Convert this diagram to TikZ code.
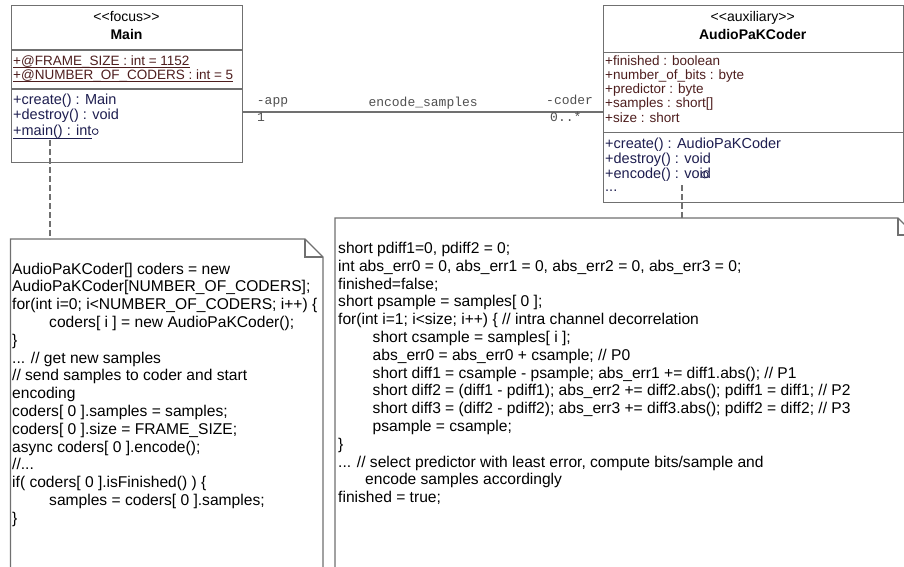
\documentclass[tikz,border=0pt]{standalone}
\usepackage{fontspec}
\setmainfont{Liberation Sans}
\newfontfamily\assocfont{Liberation Mono}
\usetikzlibrary{calc}

\definecolor{linegray}{RGB}{112,112,112}
\definecolor{attrred}{RGB}{78,30,30}
\definecolor{opblue}{RGB}{30,30,80}
\definecolor{rolegray}{RGB}{80,80,80}

\tikzset{
  outline/.style={draw=linegray, line width=1.2pt},
  classbox/.style={outline, fill=white, anchor=north west, inner sep=0pt, rectangle},
  stereo/.style={anchor=base, inner sep=0pt, font=\fontsize{14}{14}\selectfont},
  cname/.style={anchor=base, inner sep=0pt, font=\fontsize{14}{14}\selectfont\bfseries},
  member/.style={anchor=base west, inner sep=0pt},
  attr/.style={member, text=attrred, font=\fontsize{13.5}{13.5}\selectfont},
  oper/.style={member, text=opblue, font=\fontsize{14.5}{14.5}\selectfont},
  role/.style={anchor=base west, inner sep=0pt, text=rolegray, font=\assocfont\fontsize{13}{13}\selectfont},
  code/.style={anchor=base west, inner sep=0pt, font=\fontsize{15.6}{17.8}\selectfont},
  notelink/.style={draw=linegray, line width=1.2pt, dash pattern=on 6pt off 3pt},
  staticline/.style={line width=0.9pt},
  linkmark/.style={draw=opblue, line width=0.8pt},
}

\begin{document}
\begin{tikzpicture}[x=1pt, y=-1pt]
\useasboundingbox (0,0) rectangle (904,566);
\clip (0,0) rectangle (904,566);

% ---------- notes (open at the bottom of the sheet) ----------
\coordinate (lnote) at (10.5,239);
\draw[outline, fill=white] (10.5,580) -- (lnote) -- (305,239) -- (323,257) -- (323,580);
\draw[outline] (305,239) -- (305,257) -- (323,257);
\coordinate (lnotetop) at (50,239);

\coordinate (rnote) at (335,218);
\draw[outline, fill=white] (335,580) -- (rnote) -- (898,218) -- (916,236) -- (916,580);
\draw[outline] (898,218) -- (898,235) -- (916,235);
\coordinate (rnotetop) at (682,218);

% ---------- class Main ----------
\node[classbox, minimum width=231pt, minimum height=157pt] (main) at (11,5) {};
\draw[outline] ($(main.north west)+(0,45)$) -- ($(main.north east)+(0,45)$);
\draw[outline] ($(main.north west)+(0,84)$) -- ($(main.north east)+(0,84)$);
\node[stereo] (mainst) at (126.5,21) {<{}<focus>{}>};
\node[cname] (mainname) at (126.5,39.3) {Main};
\node[attr] (mattr1) at (13,65) {+@FRAME\_SIZE : int = 1152};
\node[attr] (mattr2) at (13,79.5) {+@NUMBER\_OF\_CODERS : int = 5};
\draw[attrred, staticline] ([yshift=-2.2pt]mattr1.base west) -- ([yshift=-2.2pt]mattr1.base east);
\draw[attrred, staticline] ([yshift=-2.2pt]mattr2.base west) -- ([yshift=-2.2pt]mattr2.base east);
\node[oper] (mop1) at (13,104) {+create() : Main};
\node[oper] (mop2) at (13,119.5) {+destroy() : void};
\node[oper] (mop3) at (13,135) {+main() : int};
\draw[opblue, staticline] ([yshift=-3.8pt]mop3.base west) -- ([yshift=-3.8pt]mop3.base east);
\draw[linkmark] ([xshift=3.5pt, yshift=3.4pt]mop3.base east) circle (2.9pt);
\coordinate (mainlink) at (50,140);

% ---------- class AudioPaKCoder ----------
\node[classbox, minimum width=299.5pt, minimum height=196.7pt] (coder) at (603,5) {};
\draw[outline] ($(coder.north west)+(0,47.7)$) -- ($(coder.north east)+(0,47.7)$);
\draw[outline] ($(coder.north west)+(0,127.7)$) -- ($(coder.north east)+(0,127.7)$);
\node[stereo] (coderst) at (752.75,21) {<{}<auxiliary>{}>};
\node[cname] (codername) at (752.75,39.3) {AudioPaKCoder};
\node[attr] (cattr1) at (605,65) {+finished : boolean};
\node[attr] (cattr2) at (605,79.25) {+number\_of\_bits : byte};
\node[attr] (cattr3) at (605,93.5) {+predictor : byte};
\node[attr] (cattr4) at (605,107.75) {+samples : short[]};
\node[attr] (cattr5) at (605,122) {+size : short};
\node[oper] (cop1) at (605,148.3) {+create() : AudioPaKCoder};
\node[oper] (cop2) at (605,163.3) {+destroy() : void};
\node[oper] (cop3) at (605,178.3) {+encode() : void};
\node[oper] (cop4) at (605,191.7) {...};
\draw[linkmark] ([xshift=-6.5pt, yshift=3.6pt]cop3.base east) circle (3.3pt);
\coordinate (coderlink) at (682,185);

% ---------- association ----------
\coordinate (assocy) at (0,112);
\draw[outline] (main.east |- assocy) -- (coder.west |- assocy);
\node[role] (roleapp) at (256.7,104) {-app};
\node[role] (assocname) at (368.3,106.7) {encode\_samples};
\node[role] (rolecoder) at (546,104) {-coder};
\node[role] (multapp) at (257,121.7) {1};
\node[role] (multcoder) at (550,121.7) {0..*};

% ---------- note links ----------
\draw[notelink] (mainlink) -- (lnotetop);
\draw[notelink] (coderlink) -- (rnotetop);

% ---------- left note text ----------
\node[code] (l1)  at (12,274) {AudioPaKCoder[] coders = new};
\node[code] (l2)  at (12,291.8) {AudioPaKCoder[NUMBER\_OF\_CODERS];};
\node[code] (l3)  at (12,309.6) {for(int i=0; i<NUMBER\_OF\_CODERS; i++) \{};
\node[code] (l4)  at (49,327.4) {coders[ i ] = new AudioPaKCoder();};
\node[code] (l5)  at (12,345.2) {\}};
\node[code] (l6)  at (12,363) {... // get new samples};
\node[code] (l7)  at (12,380.8) {// send samples to coder and start};
\node[code] (l8)  at (12,398.6) {encoding};
\node[code] (l9)  at (12,416.4) {coders[ 0 ].samples = samples;};
\node[code] (l10) at (12,434.2) {coders[ 0 ].size = FRAME\_SIZE;};
\node[code] (l11) at (12,452) {async coders[ 0 ].encode();};
\node[code] (l12) at (12,469.8) {//...};
\node[code] (l13) at (12,487.6) {if( coders[ 0 ].isFinished() ) \{};
\node[code] (l14) at (49,505.4) {samples = coders[ 0 ].samples;};
\node[code] (l15) at (12,523.2) {\}};

% ---------- right note text ----------
\node[code] (r1)  at (338,253.5) {short pdiff1=0, pdiff2 = 0;};
\node[code] (r2)  at (338,271.3) {int abs\_err0 = 0, abs\_err1 = 0, abs\_err2 = 0, abs\_err3 = 0;};
\node[code] (r3)  at (338,289.1) {finished=false;};
\node[code] (r4)  at (338,306.9) {short psample = samples[ 0 ];};
\node[code] (r5)  at (338,324.7) {for(int i=1; i<size; i++) \{ // intra channel decorrelation};
\node[code] (r6)  at (372.5,342.5) {short csample = samples[ i ];};
\node[code] (r7)  at (372.5,360.3) {abs\_err0 = abs\_err0 + csample; // P0};
\node[code] (r8)  at (372.5,378.1) {short diff1 = csample - psample; abs\_err1 += diff1.abs(); // P1};
\node[code] (r9)  at (372.5,395.9) {short diff2 = (diff1 - pdiff1); abs\_err2 += diff2.abs(); pdiff1 = diff1; // P2};
\node[code] (r10) at (372.5,413.7) {short diff3 = (diff2 - pdiff2); abs\_err3 += diff3.abs(); pdiff2 = diff2; // P3};
\node[code] (r11) at (372.5,431.5) {psample = csample;};
\node[code] (r12) at (338,449.3) {\}};
\node[code] (r13) at (338,467.1) {... // select predictor with least error, compute bits/sample and};
\node[code] (r14) at (365,484.9) {encode samples accordingly};
\node[code] (r15) at (338,502.7) {finished = true;};
\end{tikzpicture}
\end{document}
